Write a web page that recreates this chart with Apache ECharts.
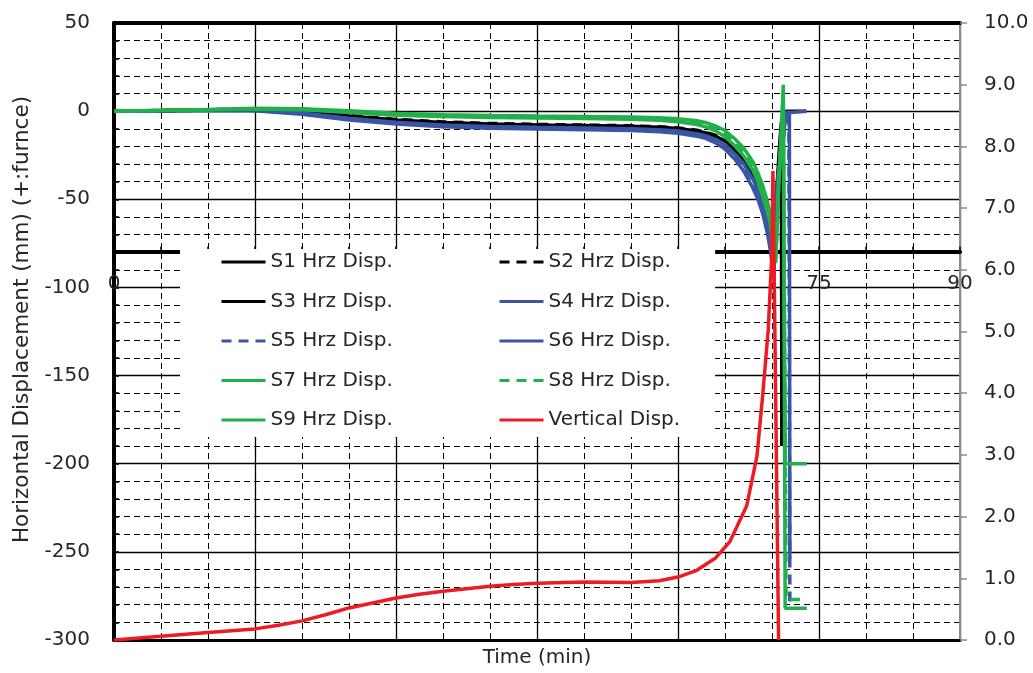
<!DOCTYPE html>
<html><head><meta charset="utf-8">
<script src="https://cdn.jsdelivr.net/npm/echarts@6/dist/echarts.min.js"></script>
<style>html,body{margin:0;padding:0;background:#fff}#c{width:1033px;height:673px}</style>
</head><body><div id="c"></div>
<script>
// ---- data ----
const seriesNames = ['S1 Hrz Disp.','S2 Hrz Disp.','S3 Hrz Disp.','S4 Hrz Disp.','S5 Hrz Disp.','S6 Hrz Disp.','S7 Hrz Disp.','S8 Hrz Disp.','S9 Hrz Disp.','Vertical Disp.'];
const xRange = [0, 90];        // Time (min), step 15
const leftRange = [-300, 50];  // Horizontal displacement (mm), step 50
const rightRange = [0, 10];    // Vertical displacement, step 1

const s1 = [[0,0],[5,0.3],[10,0.7],[15,1.0],[20,0.0],[25,-2.8],[30,-5.0],[35,-6.4],[40,-7.3],[45,-7.8],[50,-8.2],[55,-8.6],[58,-9.2],[60,-9.8],[62,-11.2],[63,-12.4],[64,-14.2],[65,-17.0],[66,-21.5],[67,-27.0],[68,-35.0],[68.5,-40.0],[69,-47.0],[69.5,-57.0],[69.8,-65.0],[70.1,-80],[70.4,-55],[70.8,-20],[71.0,-6],[71.05,-190]];
const s2 = [[0,0],[5,0.3],[10,0.8],[15,1.1],[20,0.2],[25,-2.5],[30,-4.7],[35,-6.1],[40,-7.0],[45,-7.5],[50,-7.9],[55,-8.3],[58,-8.9],[60,-9.5],[62,-10.8],[63,-12.0],[64,-13.8],[65,-16.5],[66,-20.8],[67,-26.2],[68,-34.0],[68.5,-39.0],[69,-46.0],[69.5,-56.0],[69.8,-64.0],[70.1,-79],[70.5,-50],[71.0,-8],[71.06,-190]];
const s3 = [[0,0],[5,0.2],[10,0.6],[15,0.9],[20,-0.3],[25,-3.2],[30,-5.4],[35,-6.8],[40,-7.7],[45,-8.2],[50,-8.6],[55,-9.0],[58,-9.6],[60,-10.3],[62,-11.8],[63,-13.0],[64,-15.0],[65,-18.0],[66,-22.5],[67,-28.5],[68,-37.0],[68.5,-42.0],[69,-49.5],[69.5,-60.0],[69.8,-68.0],[70.1,-84],[70.5,-45],[71.3,-5],[71.5,0],[73.6,0]];
const s4 = [[0,0],[5,0.3],[10,0.6],[15,0.6],[20,-1.0],[25,-4.0],[30,-6.3],[35,-7.8],[40,-8.7],[45,-9.2],[50,-9.6],[55,-10.0],[58,-10.6],[60,-11.3],[62,-12.8],[63,-14.0],[64,-16.0],[65,-19.0],[66,-24.0],[67,-30.0],[68,-39.0],[68.5,-45.0],[69,-52.0],[69.5,-63.0],[69.8,-72.0],[70.2,-88],[70.5,-45],[71.4,-1],[71.5,0],[73.7,0]];
const s5 = [[0,0],[5,0.2],[10,0.5],[15,0.4],[20,-1.4],[25,-4.5],[30,-6.8],[35,-8.3],[40,-9.2],[45,-9.7],[50,-10.1],[55,-10.5],[58,-11.1],[60,-11.9],[62,-13.5],[63,-14.8],[64,-17.0],[65,-20.3],[66,-25.5],[67,-32.0],[68,-41.5],[68.5,-47.5],[69,-55.0],[69.5,-66.0],[69.8,-75.0],[70.2,-91],[70.6,-42],[71.5,-4],[71.8,0],[71.9,-280]];
const s6 = [[0,0],[5,0.2],[10,0.4],[15,0.2],[20,-1.8],[25,-5.0],[30,-7.3],[35,-8.8],[40,-9.7],[45,-10.2],[50,-10.6],[55,-11.0],[58,-11.7],[60,-12.5],[62,-14.2],[63,-15.6],[64,-18.0],[65,-21.5],[66,-27.0],[67,-34.0],[68,-44.0],[68.5,-50.0],[69,-58.0],[69.5,-69.0],[69.8,-78.0],[70.2,-94],[70.6,-38],[71.5,-2],[71.85,0],[71.9,-254]];
const s7 = [[0,0],[5,0.5],[10,1.0],[15,1.6],[20,1.4],[25,0.2],[30,-1.2],[35,-2.0],[40,-2.5],[45,-2.8],[50,-3.0],[55,-3.3],[58,-3.8],[60,-4.3],[62,-5.5],[63,-6.6],[64,-8.4],[65,-11.0],[66,-15.5],[67,-21.0],[68,-29.0],[68.5,-35.0],[69,-42.0],[69.5,-51.0],[69.8,-58.0],[70.1,-72],[70.4,-82],[70.7,-45],[71.0,-12],[71.2,15],[71.4,-200],[73.7,-200]];
const s8 = [[0,0],[5,0.4],[10,0.9],[15,1.4],[20,1.1],[25,-0.3],[30,-1.7],[35,-2.5],[40,-3.0],[45,-3.3],[50,-3.6],[55,-4.0],[58,-4.6],[60,-5.3],[62,-6.8],[63,-8.0],[64,-10.0],[65,-12.8],[66,-17.5],[67,-23.5],[68,-31.5],[68.5,-37.5],[69,-45.0],[69.5,-54.0],[69.8,-61.0],[70.1,-75],[70.4,-84],[70.8,-30],[71.2,5],[71.5,-277],[73.7,-277]];
const s9 = [[0,0],[5,0.3],[10,0.8],[15,1.2],[20,0.8],[25,-0.8],[30,-2.3],[35,-3.1],[40,-3.6],[45,-3.9],[50,-4.2],[55,-4.6],[58,-5.2],[60,-6.0],[62,-7.6],[63,-9.0],[64,-11.2],[65,-14.5],[66,-19.5],[67,-25.5],[68,-34.0],[68.5,-40.0],[69,-48.0],[69.5,-57.0],[69.8,-63.0],[70.1,-78],[70.4,-86],[70.7,-40],[71.2,10],[71.4,-282],[73.7,-282]];
const vert = [[0,0],[5,0.06],[10,0.12],[15,0.18],[17.5,0.24],[20,0.31],[22.5,0.41],[25,0.52],[27.5,0.6],[30,0.68],[32.5,0.74],[35,0.79],[37.5,0.83],[40,0.87],[42.5,0.9],[45,0.92],[50,0.94],[55,0.93],[58,0.96],[60,1.02],[62,1.13],[64,1.33],[65.5,1.59],[67.3,2.17],[68.4,2.98],[69,3.95],[69.6,5.03],[70,6.3],[70.1,7.6],[70.7,0]];

// ---- chart ----
const FONT = 'DejaVu Sans';
const TXT = '#262626';
const BLACK = '#000000', BLUE = '#3b55a5', GREEN = '#22b04b', RED = '#ed1c24';
const DASH = [10, 7];
const styles = [
  [BLACK, 'solid'], [BLACK, DASH], [BLACK, 'solid'],
  [BLUE, 'solid'], [BLUE, DASH], [BLUE, 'solid'],
  [GREEN, 'solid'], [GREEN, DASH], [GREEN, 'solid'],
  [RED, 'solid']
];
const datasets = [s1, s2, s3, s4, s5, s6, s7, s8, s9, vert];

const series = datasets.map((d, i) => ({
  name: seriesNames[i],
  type: 'line',
  data: d,
  xAxisIndex: 0,
  yAxisIndex: i === 9 ? 1 : 0,
  symbol: 'none',
  showSymbol: false,
  color: styles[i][0],
  lineStyle: { color: styles[i][0], width: 3.5, type: styles[i][1] },
  emphasis: { disabled: true }
}));

const legendCommon = {
  orient: 'vertical',
  top: 249,
  itemGap: 19.5,
  itemWidth: 44,
  itemHeight: 14,
  backgroundColor: '#ffffff',
  itemStyle: { opacity: 0 },
  lineStyle: { width: 3 },
  textStyle: { fontFamily: FONT, fontSize: 20, color: TXT, lineHeight: 20 }
};

const gridSolid = { color: '#000', width: 1.3 };
const gridDash = { color: '#000', width: 1, type: [6, 4] };

const option = {
  animation: false,
  backgroundColor: '#ffffff',
  grid: { left: 114, right: 73, top: 23, bottom: 32 },
  legend: [
    Object.assign({}, legendCommon, {
      left: 180, padding: [3, 60, 7, 40],
      data: ['S1 Hrz Disp.', 'S3 Hrz Disp.', 'S5 Hrz Disp.', 'S7 Hrz Disp.', 'S9 Hrz Disp.']
    }),
    Object.assign({}, legendCommon, {
      left: 420, padding: [3, 35, 7, 78], z: 5,
      data: ['S2 Hrz Disp.', 'S4 Hrz Disp.', 'S6 Hrz Disp.', 'S8 Hrz Disp.', 'Vertical Disp.']
    })
  ],
  xAxis: [
    {
      type: 'value', min: xRange[0], max: xRange[1], interval: 15,
      position: 'bottom', offset: -388.6,
      axisLine: { show: true, onZero: false, lineStyle: { color: '#000', width: 4 } },
      axisTick: { show: true, inside: true, length: 5, lineStyle: { color: '#000', width: 1.5 } },
      minorTick: { show: true, splitNumber: 3, length: 5, lineStyle: { color: '#000', width: 1.5 } },
      splitLine: { show: true, lineStyle: gridSolid },
      minorSplitLine: { show: true, lineStyle: gridDash },
      axisLabel: { show: true, margin: 22, fontFamily: FONT, fontSize: 20, color: TXT, showMinLabel: true, showMaxLabel: true }
    },
    {
      type: 'value', min: xRange[0], max: xRange[1], interval: 15,
      position: 'bottom',
      axisLine: { show: true, onZero: false, lineStyle: { color: '#000', width: 3 } },
      axisTick: { show: false }, axisLabel: { show: false }, splitLine: { show: false },
      name: 'Time (min)', nameLocation: 'middle', nameGap: 8,
      nameTextStyle: { fontFamily: FONT, fontSize: 20, color: TXT }
    },
    {
      type: 'value', min: xRange[0], max: xRange[1], interval: 15,
      position: 'top',
      axisLine: { show: true, onZero: false, lineStyle: { color: '#000', width: 4 } },
      axisTick: { show: false }, axisLabel: { show: false }, splitLine: { show: false }
    }
  ],
  yAxis: [
    {
      type: 'value', min: leftRange[0], max: leftRange[1], interval: 50, position: 'left',
      axisLine: { show: true, onZero: false, lineStyle: { color: '#000', width: 4 } },
      axisTick: { show: true, inside: true, length: 5, lineStyle: { color: '#000', width: 1.5 } },
      minorTick: { show: true, splitNumber: 5, length: 5, lineStyle: { color: '#000', width: 1.5 } },
      splitLine: { show: true, lineStyle: gridSolid },
      minorSplitLine: { show: true, lineStyle: gridDash },
      axisLabel: { margin: 24, fontFamily: FONT, fontSize: 20, color: TXT },
      name: 'Horizontal Displacement (mm) (+:furnce)', nameLocation: 'middle', nameGap: 73,
      nameTextStyle: { fontFamily: FONT, fontSize: 21.5, color: TXT, padding: [0, 0, 0, 24] }
    },
    {
      type: 'value', min: rightRange[0], max: rightRange[1], interval: 1, position: 'right',
      axisLine: { show: true, onZero: false, lineStyle: { color: '#8c8c8c', width: 2 } },
      axisTick: { show: true, length: 7, lineStyle: { color: '#8c8c8c', width: 1.5 } },
      splitLine: { show: false },
      axisLabel: { margin: 24, fontFamily: FONT, fontSize: 20, color: TXT, formatter: v => v.toFixed(1) }
    }
  ],
  series: series
};

const chart = echarts.init(document.getElementById('c'), null, { renderer: 'canvas' });
chart.setOption(option);
</script>
</body></html>
